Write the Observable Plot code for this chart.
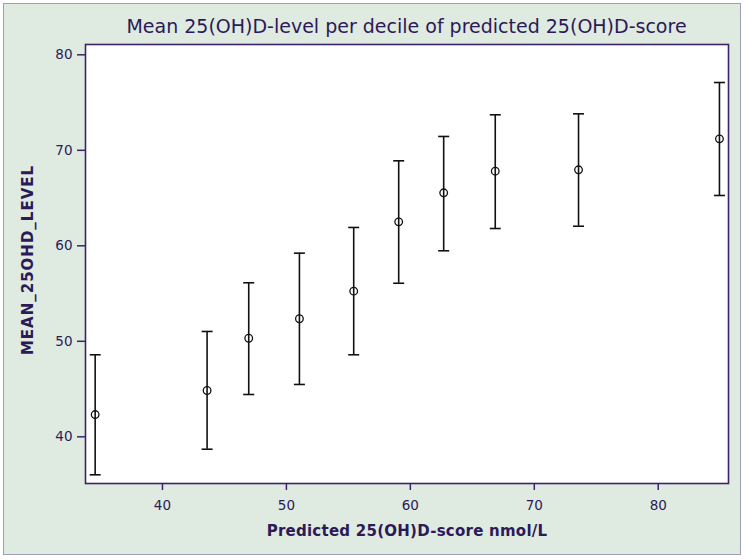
<!DOCTYPE html>
<html>
<head>
<meta charset="utf-8">
<script src="https://cdn.jsdelivr.net/npm/d3@7"></script>
<script src="https://cdn.jsdelivr.net/npm/@observablehq/plot@0.6"></script>
<style>
  html, body { margin: 0; padding: 0; background: #ffffff; }
  #wrap { position: relative; width: 745px; height: 560px; overflow: hidden; }
  #panel { position: absolute; left: 3px; top: 3px; width: 736px; height: 550px;
           border: 1.5px solid #a09db6; background: #dfeae0; }
  #title { position: absolute; left: 85px; width: 643px; top: 15px; text-align: center;
           font-family: "DejaVu Sans", Verdana, sans-serif; font-size: 19px; line-height: 22px; color: #2c1958; }
  #chart { position: absolute; left: 0; top: 0; }
</style>
</head>
<body>
<div id="wrap">
  <div id="panel"></div>
  <div id="chart"></div>
  <div id="title">Mean 25(OH)D-level per decile of predicted 25(OH)D-score</div>
</div>
<script>
// Predicted 25(OH)D-score (x), mean 25(OH)D level with lower/upper limits
const predicted = [34.57, 43.6, 46.96, 51.05, 55.43, 59.06, 62.69, 66.85, 73.57, 84.94];
const meanLevel = [42.33, 44.85, 50.32, 52.36, 55.25, 62.51, 65.55, 67.81, 67.96, 71.2];
const lowerLevel = [36.02, 38.7, 44.43, 45.48, 48.59, 56.08, 59.48, 61.81, 62.05, 65.27];
const upperLevel = [48.59, 51.03, 56.13, 59.23, 61.92, 68.9, 71.45, 73.72, 73.82, 77.1];
const xTicks = [40, 50, 60, 70, 80];
const yTicks = [40, 50, 60, 70, 80];
const xLabel = "Predicted 25(OH)D-score nmol/L";
const yLabel = "MEAN_25OHD_LEVEL";

const data = predicted.map((x, i) => ({x, mean: meanLevel[i], lo: lowerLevel[i], hi: upperLevel[i]}));

const capSymbol = {
  draw(context, size) {
    const w = Math.sqrt(size / Math.PI);
    context.moveTo(-w, 0);
    context.lineTo(w, 0);
  }
};

const txt = "#2c1958";
const frameColor = "#3d2468";

const chart = Plot.plot({
  width: 745,
  height: 560,
  marginLeft: 85,
  marginRight: 17,
  marginTop: 44,
  marginBottom: 77,
  style: { background: "transparent", color: txt, fontFamily: "DejaVu Sans, Verdana, sans-serif", fontSize: "13.5px" },
  x: { domain: [33.79, 85.67] },
  y: { domain: [35.11, 81.08] },
  marks: [
    Plot.frame({ fill: "white", stroke: "none" }),
    Plot.axisX({ ticks: xTicks, tickSize: 7, tickPadding: 10, label: null, stroke: frameColor, strokeWidth: 1.5, fill: txt }),
    Plot.axisY({ ticks: yTicks, tickSize: 8, tickPadding: 5, label: null, stroke: frameColor, strokeWidth: 1.5, fill: txt }),
    Plot.ruleX(data, { x: "x", y1: "lo", y2: "hi", stroke: "#111", strokeWidth: 1.6 }),
    Plot.dot(data, { x: "x", y: "lo", symbol: capSymbol, r: 5.5, stroke: "#111", strokeWidth: 1.6 }),
    Plot.dot(data, { x: "x", y: "hi", symbol: capSymbol, r: 5.5, stroke: "#111", strokeWidth: 1.6 }),
    Plot.dot(data, { x: "x", y: "mean", r: 3.8, stroke: "#111", fill: "none", strokeWidth: 1.3 }),
    Plot.frame({ stroke: frameColor, strokeWidth: 1.6 }),
    Plot.text([xLabel], { frameAnchor: "bottom", dy: 52, fontWeight: "bold", fontSize: 15, fill: txt }),
    Plot.text([yLabel], { frameAnchor: "left", textAnchor: "middle", dx: -57, dy: -4, rotate: -90, fontWeight: "bold", fontSize: 15, fill: txt })
  ]
});
d3.select(chart).selectAll("text").each(function () {
  const t = d3.select(this).text();
  if (t === xLabel) d3.select(this).style("letter-spacing", "0.25px");
  if (t === yLabel) d3.select(this).style("letter-spacing", "1px");
});
document.getElementById("chart").appendChild(chart);
</script>
</body>
</html>
